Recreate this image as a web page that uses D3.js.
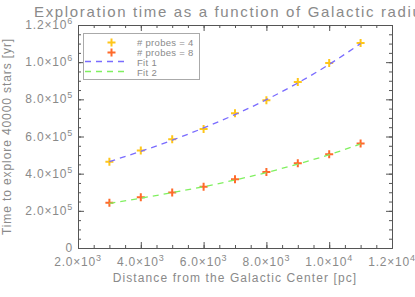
<!DOCTYPE html>
<html><head><meta charset="utf-8">
<script src="https://cdn.jsdelivr.net/npm/d3@7"></script>
<style>
body{margin:0;background:#fff;}
svg{display:block;font-family:"Liberation Sans",Arial,sans-serif;}
</style></head>
<body><svg id="c" width="415" height="297"></svg>
<script>
const distances = [3000,4000,5000,6000,7000,8000,9000,10000,11000];
const probes4 = [464000,524000,585000,640000,725000,795000,893000,996000,1103000];
const probes8 = [244000,273000,298000,330000,370000,409000,456000,504000,563000];
const fit1 = [465000,520000,580000,646000,718000,798000,888000,988000,1100000];
const fit2 = [240000,268000,298000,330000,366000,406000,452000,502000,560000];
const xTicks = [2000,4000,6000,8000,10000,12000];
const yTicks = [0,200000,400000,600000,800000,1000000,1200000];
const legendLabels = ["# probes = 4","# probes = 8","Fit 1","Fit 2"];
const titleText = "Exploration time as a function of Galactic radius";
const xTitle = "Distance from the Galactic Center [pc]";
const yTitle = "Time to explore 40000 stars [yr]";

const svg = d3.select("#c");
const L=78,R=392,T=25,B=248;
const x = d3.scaleLinear().domain([2000,12000]).range([L,R]);
const y = d3.scaleLinear().domain([0,1200000]).range([B,T]);
const axisColor="#555", textColor="#8a8a8a";

const xMinor = d3.range(2000,12001,500);
const yMinor = d3.range(0,1200001,50000);

function styleAxis(g){
  g.select(".domain").attr("stroke",axisColor);
  g.selectAll(".tick line").attr("stroke",axisColor);
  g.selectAll("text").remove();
}
[[d3.axisBottom(x),B],[d3.axisTop(x),T]].forEach(([a,ty])=>{
  svg.append("g").attr("transform",`translate(0,${ty})`).call(a.tickValues(xMinor).tickSize(-3).tickSizeOuter(0)).call(styleAxis);
  svg.append("g").attr("transform",`translate(0,${ty})`).call(a.tickValues(xTicks).tickSize(-6).tickSizeOuter(0)).call(styleAxis);
});
[[d3.axisLeft(y),L],[d3.axisRight(y),R]].forEach(([a,tx])=>{
  svg.append("g").attr("transform",`translate(${tx},0)`).call(a.tickValues(yMinor).tickSize(-3).tickSizeOuter(0)).call(styleAxis);
  svg.append("g").attr("transform",`translate(${tx},0)`).call(a.tickValues(yTicks).tickSize(-6).tickSizeOuter(0)).call(styleAxis);
});

function sci(g,v){
  if(v===0){g.append("tspan").text("0");return;}
  const e=Math.floor(Math.log10(v)); const m=(v/Math.pow(10,e)).toFixed(1);
  g.append("tspan").text(m+"×10");
  g.append("tspan").attr("dy",-5).attr("font-size",9).text(e);
}
xTicks.forEach(v=>{
  const t=svg.append("text").attr("x",x(v)).attr("y",266).attr("text-anchor","middle")
    .attr("fill",textColor).attr("font-size",12).attr("letter-spacing",0.8);
  sci(t,v);
});
yTicks.forEach(v=>{
  const t=svg.append("text").attr("x",73).attr("y",y(v)+4).attr("text-anchor","end")
    .attr("fill",textColor).attr("font-size",12).attr("letter-spacing",0.8);
  sci(t,v);
});

svg.append("text").attr("x",34).attr("y",17).attr("fill",textColor).attr("font-size",15)
  .attr("letter-spacing",1.65).text(titleText);
svg.append("text").attr("x",(L+R)/2).attr("y",282).attr("text-anchor","middle").attr("fill",textColor)
  .attr("font-size",12).attr("letter-spacing",1.1).text(xTitle);
svg.append("text").attr("transform",`translate(11,${(T+B)/2}) rotate(-90)`).attr("text-anchor","middle")
  .attr("fill",textColor).attr("font-size",12).attr("letter-spacing",0.9).text(yTitle);

const colors={p4:"#ffc61a",p8:"#ff6a2a",f1:"#7a6cff",f2:"#80f060"};
function plus(sel,cx,cy,c){
  sel.append("path").attr("d",`M${cx-4},${cy}H${cx+4}M${cx},${cy-4}V${cy+4}`)
    .attr("stroke",c).attr("stroke-width",2).attr("fill","none");
}
distances.forEach((d,i)=>{plus(svg,x(d),y(probes4[i]),colors.p4);plus(svg,x(d),y(probes8[i]),colors.p8);});
const line=(arr)=>d3.line().x((d,i)=>x(distances[i])).y(d=>y(d)).curve(d3.curveNatural)(arr);
svg.append("path").attr("d",line(fit1)).attr("stroke",colors.f1).attr("stroke-width",1.3).attr("fill","none").attr("stroke-dasharray","6,5");
svg.append("path").attr("d",line(fit2)).attr("stroke",colors.f2).attr("stroke-width",1.3).attr("fill","none").attr("stroke-dasharray","6,5");

const lg=svg.append("g");
lg.append("rect").attr("x",83.5).attr("y",33.5).attr("width",116).attr("height",46).attr("fill","#fff").attr("stroke","#aaa");
plus(lg,111.5,42.5,colors.p4); plus(lg,111.5,52.5,colors.p8);
lg.append("line").attr("x1",85).attr("x2",127).attr("y1",61.5).attr("y2",61.5).attr("stroke",colors.f1).attr("stroke-width",1.3).attr("stroke-dasharray","6,5");
lg.append("line").attr("x1",85).attr("x2",127).attr("y1",71.5).attr("y2",71.5).attr("stroke",colors.f2).attr("stroke-width",1.3).attr("stroke-dasharray","6,5");
legendLabels.forEach((s,i)=>{
  lg.append("text").attr("x",137).attr("y",46+i*10).attr("fill",textColor).attr("font-size",9.5).attr("letter-spacing",0.3).text(s);
});
</script></body></html>
